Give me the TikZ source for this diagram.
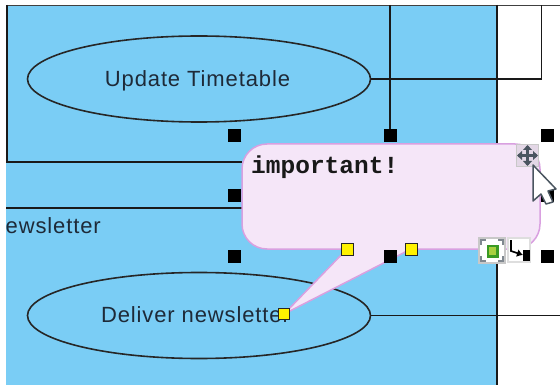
\documentclass[tikz,border=0pt]{standalone}
\usepackage{fontspec}
\setmainfont{Liberation Sans}[LetterSpace=4]
\newfontfamily\monob{Liberation Mono}[BoldFont={Liberation Mono Bold}]
\usetikzlibrary{shapes.geometric,arrows.meta}
\definecolor{panelblue}{HTML}{7ACDF5}
\definecolor{bubblefill}{HTML}{F5E6F8}
\definecolor{bubbleline}{HTML}{D9A0E0}
\definecolor{inktext}{HTML}{1E2A38}
\definecolor{iconbox}{HTML}{C8C8C8}
\definecolor{icongrey}{HTML}{4A5560}
\definecolor{icongreen}{HTML}{3A9A24}
\definecolor{iconcore}{HTML}{A8D040}
\tikzset{
  usecase/.style={draw=black!85,line width=1.6pt,ellipse,minimum width=343pt,minimum height=86pt,inner sep=0pt},
  labeltext/.style={font=\fontsize{22}{26}\selectfont,text=inktext,inner sep=0pt},
  wire/.style={draw=black!90,line width=1.6pt},
  handle/.style={fill=black,draw=none,minimum size=13pt,inner sep=0pt,rectangle},
  yhandle/.style={fill=yellow,draw=black!85,line width=1.4pt,minimum size=11.5pt,inner sep=0pt,rectangle},
  iconcell/.style={draw=iconbox,line width=1.2pt,fill=white,inner sep=0pt,rectangle},
}
\begin{document}
\begin{tikzpicture}[x=1pt,y=-1pt]
\useasboundingbox (0,0) rectangle (560,385);
\fill[white] (0,0) rectangle (560,385);
\fill[panelblue] (6,5) rectangle (497,385);
% structural lines
\coordinate (t0) at (6,5.5);
\coordinate (t9) at (560,5.5);
\coordinate (t1) at (390,5);
\coordinate (t1b) at (390,136);
\coordinate (b1) at (497,5);
\coordinate (b2) at (497,385);
\coordinate (l1) at (6.5,5);
\coordinate (l2) at (6.5,162);
\coordinate (l3) at (242,162);
\coordinate (m1) at (6,208);
\coordinate (m2) at (242,208);
\coordinate (r1) at (541.5,79);
\coordinate (r2) at (541.5,5);
\coordinate (r3) at (560,315.5);
\draw[draw=black!75,line width=1pt] (t0) -- (t9);
\draw[wire] (b1) -- (b2);
\draw[wire] (t1) -- (t1b);
\draw[wire,line width=2pt] (l1) -- (l2) -- (l3);
\draw[wire] (m1) -- (m2);
\node[usecase] (upd) at (199,79) {};
\node[usecase] (del) at (199,315.5) {};
\node[labeltext] (updt) at (197.5,81) {Update Timetable};
\node[labeltext] (delt) at (195.5,315) {Deliver newsletter};
\draw[wire] (upd.east) -- (r1) -- (r2);
\draw[wire] (del.east) -- (r3);
\node[labeltext,anchor=east] (nl) at (101,225.5) {ewsletter};
% handles
\foreach \n/\x/\y in {ha/234/136,hb/390/136,hc/547/136,hd/234/196,he/547/196,hf/234/256,hg/390/256,hh/547/256}
  \node[handle] (\n) at (\x,\y) {};
% callout
\coordinate (tip) at (284,314);
\draw[draw=bubbleline,fill=bubblefill,line width=1.5pt]
  (267,144) -- (515,144) arc[start angle=-90,end angle=0,radius=25] -- (540,224)
  arc[start angle=0,end angle=90,radius=25] -- (411,249) -- (tip) -- (347,249) -- (267,249)
  arc[start angle=90,end angle=180,radius=25] -- (242,169) arc[start angle=180,end angle=270,radius=25] -- cycle;
\node[handle] (hg2) at (390,256) {};
\node[anchor=west,inner sep=0pt,font=\monob\bfseries\fontsize{24.5}{26}\selectfont,text=black!90] (imp) at (251,167) {important!};
\node[yhandle] (y1) at (347.5,249.5) {};
\node[yhandle] (y2) at (411.5,249.5) {};
\node[yhandle] (y3) at (284,314) {};
% move icon
\node[draw=iconbox,line width=1pt,fill=bubblefill!85!gray,minimum size=22pt,inner sep=0pt] (mv) at (527.5,155.5) {};
\draw[icongrey,line width=2.2pt] (518,155.5) -- (537,155.5) (527.5,146) -- (527.5,165);
\fill[icongrey] (527.5,145) -- (532,150) -- (523,150) -- cycle (527.5,166) -- (532,161) -- (523,161) -- cycle
  (517,155.5) -- (522,151) -- (522,160) -- cycle (538,155.5) -- (533,151) -- (533,160) -- cycle;
% cursor
\draw[draw=icongrey,line width=1.5pt,fill=white,line join=round]
  (533,165) -- (556,189) -- (548,191) -- (553,202) -- (546,204) -- (541,194) -- (533,201) -- cycle;
% resource icons
\node[iconcell,minimum width=26pt,minimum height=25pt] (ic1) at (492,250.5) {};
\fill[icongreen] (486.5,244.5) rectangle (498.5,257.5);
\fill[iconcore] (489,247) rectangle (496,255);
\draw[icongrey!70,line width=2.2pt] (481,245) -- (481,240) -- (486,240) (498,240) -- (503,240) -- (503,245) (503,256) -- (503,261) -- (498,261) (486,261) -- (481,261) -- (481,256);
\node[iconcell,minimum width=22pt,minimum height=24pt,draw=iconbox!60] (ic2) at (519,250) {};
\draw[black,line width=1.7pt,-{Latex[length=6pt,width=8pt]}] (511,240) -- (511,251) -- (523,255);
\fill[black] (523,250) rectangle (530,261);
\end{tikzpicture}
\end{document}
